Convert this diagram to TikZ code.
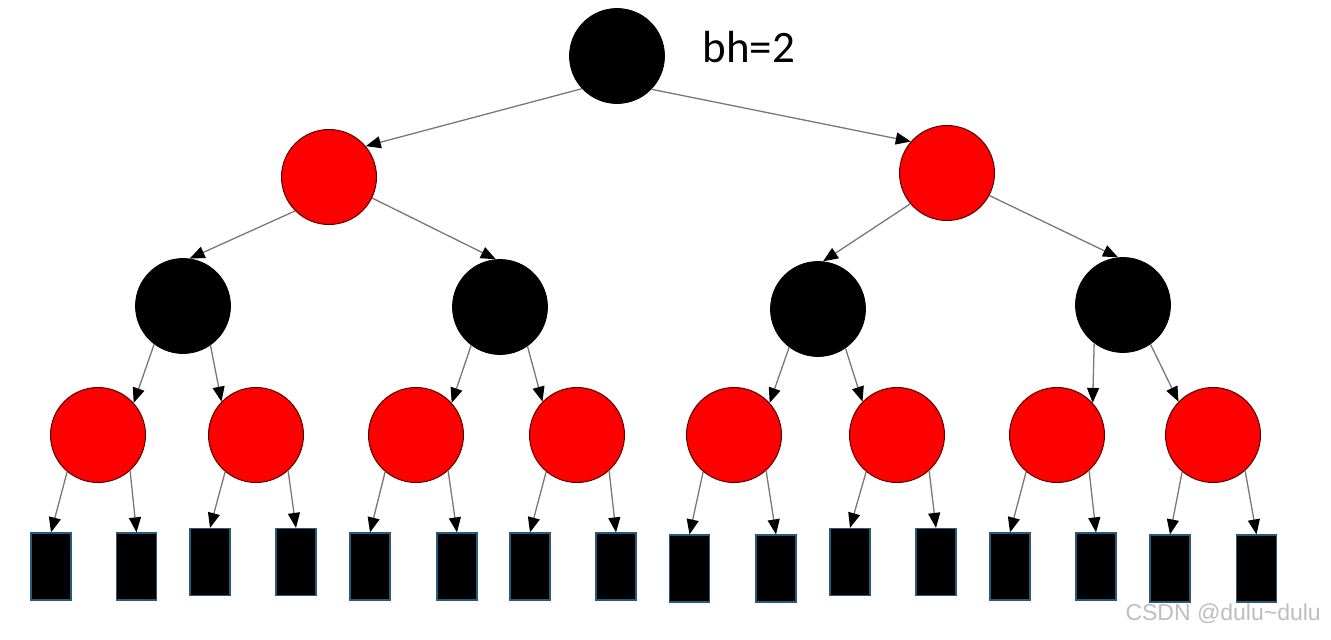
\documentclass[tikz,border=0pt]{standalone}
\usepackage{fontspec}
\setmainfont{Carlito}
\newfontfamily\wmfont{Liberation Sans}
\usetikzlibrary{arrows.meta}
\definecolor{leafedge}{RGB}{40,90,125}
\definecolor{edgegray}{RGB}{120,120,120}
\definecolor{wmgray}{RGB}{190,190,190}
\definecolor{rededge}{RGB}{90,0,0}
\tikzset{
  blk/.style={circle,fill=black,draw=black,line width=0.8pt,minimum size=95pt,inner sep=0pt},
  rd/.style={circle,fill=red,draw=rededge,line width=1pt,minimum size=95pt,inner sep=0pt},
  leaf/.style={rectangle,fill=black,draw=leafedge,line width=1.2pt,minimum width=40pt,minimum height=67pt,inner sep=0pt},
  edge/.style={draw=edgegray,line width=1.3pt,-{Triangle[length=15pt,width=12pt,color=black]}},
}
\begin{document}
\begin{tikzpicture}[x=1pt,y=-1pt]
\useasboundingbox (0,0) rectangle (1331,640);
% root and labels
\node[blk] (r) at (617,56) {};
\node[font=\fontsize{45}{52}\selectfont,anchor=west] (bh) at (699,47) {bh=2};
% level 1
\node[rd] (a) at (329,177) {};
\node[rd] (b) at (947,173) {};
% level 2
\node[blk] (c1) at (183,306) {};
\node[blk] (c2) at (500,307) {};
\node[blk] (c3) at (818,309) {};
\node[blk] (c4) at (1123,305) {};
% level 3
\node[rd] (d1) at (98,435) {};
\node[rd] (d2) at (256,435) {};
\node[rd] (d3) at (416,435) {};
\node[rd] (d4) at (577,435) {};
\node[rd] (d5) at (734,435) {};
\node[rd] (d6) at (897,435) {};
\node[rd] (d7) at (1057,435) {};
\node[rd] (d8) at (1213,435) {};
% leaves
\node[leaf] (l1) at (51,566.5) {};
\node[leaf] (l2) at (136.5,566.5) {};
\node[leaf] (l3) at (210,562) {};
\node[leaf] (l4) at (296,562) {};
\node[leaf] (l5) at (370,566.5) {};
\node[leaf] (l6) at (457,566.5) {};
\node[leaf] (l7) at (530,566.5) {};
\node[leaf] (l8) at (616,566.5) {};
\node[leaf] (l9) at (689.5,568.5) {};
\node[leaf] (l10) at (776,568.5) {};
\node[leaf] (l11) at (850,562) {};
\node[leaf] (l12) at (936,562) {};
\node[leaf] (l13) at (1010,566.5) {};
\node[leaf] (l14) at (1096,566.5) {};
\node[leaf] (l15) at (1170,568.5) {};
\node[leaf] (l16) at (1256.5,568.5) {};
% edges root -> level 1
\draw[edge] (r.-137) -- (a.40);
\draw[edge] (r.-44) -- (b.139);
% level 1 -> level 2
\draw[edge] (a.-135) -- (c1.82);
\draw[edge] (a.-26) -- (c2.95);
\draw[edge] (b.-140) -- (c3.84);
\draw[edge] (b.-28) -- (c4.96);
% level 2 -> level 3
\draw[edge] (c1.-127) -- (d1.42);
\draw[edge] (c1.-55) -- (d2.136);
\draw[edge] (c2.-127) -- (d3.42);
\draw[edge] (c2.-55) -- (d4.136);
\draw[edge] (c3.-127) -- (d5.42);
\draw[edge] (c3.-55) -- (d6.136);
\draw[edge] (c4.-127) -- (d7.42);
\draw[edge] (c4.-55) -- (d8.136);
% level 3 -> leaves
\draw[edge] (d1.-130) -- (l1.north);
\draw[edge] (d1.-48) -- (l2.north);
\draw[edge] (d2.-130) -- (l3.north);
\draw[edge] (d2.-48) -- (l4.north);
\draw[edge] (d3.-130) -- (l5.north);
\draw[edge] (d3.-48) -- (l6.north);
\draw[edge] (d4.-130) -- (l7.north);
\draw[edge] (d4.-48) -- (l8.north);
\draw[edge] (d5.-130) -- (l9.north);
\draw[edge] (d5.-48) -- (l10.north);
\draw[edge] (d6.-130) -- (l11.north);
\draw[edge] (d6.-48) -- (l12.north);
\draw[edge] (d7.-130) -- (l13.north);
\draw[edge] (d7.-48) -- (l14.north);
\draw[edge] (d8.-130) -- (l15.north);
\draw[edge] (d8.-48) -- (l16.north);
% watermark
\node[font=\wmfont\fontsize{23}{26}\selectfont,text=wmgray,anchor=east,inner sep=0pt] (wm) at (1321,614) {CSDN @dulu\textasciitilde dulu};
\end{tikzpicture}
\end{document}
